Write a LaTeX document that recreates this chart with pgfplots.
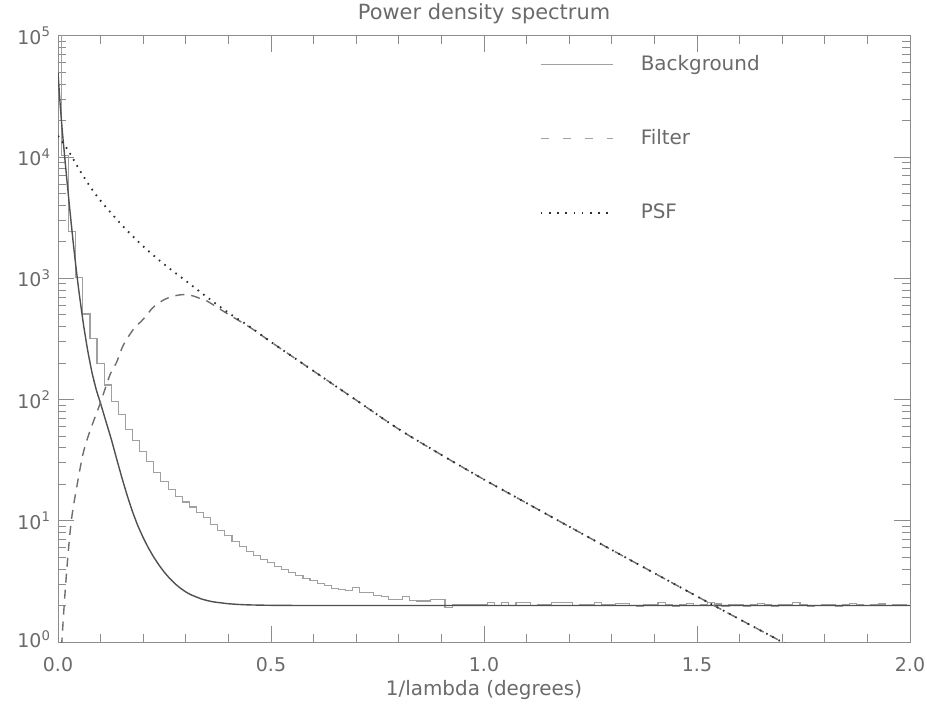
\documentclass[border=0pt]{standalone}
\usepackage{fontspec}
\setmainfont{DejaVu Sans}
\usepackage{pgfplots}
\usepackage{pgfplotstable}
\pgfplotsset{compat=1.18}

\definecolor{axisgray}{HTML}{8C8C8C}
\definecolor{textgray}{HTML}{6A6A6A}
\definecolor{histgray}{HTML}{A0A0A0}
\definecolor{bggray}{HTML}{505050}
\definecolor{filtgray}{HTML}{6E6E6E}
\definecolor{psfcol}{HTML}{2E2E2E}

% histogram of the measured spectrum, bin width 1/60
\pgfplotstableread{
x y
0 300000
0.0167 10400
0.0333 2430
0.05 1010
0.0667 508
0.0833 320
0.1 199
0.1167 132
0.1333 96
0.15 75
0.1667 57
0.1833 46
0.2 37
0.2167 31
0.2333 25
0.25 21
0.2667 18.2
0.2833 16.0
0.3 14.3
0.3167 13.0
0.3333 11.8
0.35 10.6
0.3667 9.3
0.3833 8.3
0.4 7.6
0.4167 6.8
0.4333 6.1
0.45 5.6
0.4667 5.2
0.4833 4.8
0.5 4.5
0.5167 4.2
0.5333 3.95
0.55 3.75
0.5667 3.55
0.5833 3.35
0.6 3.2
0.6167 3.05
0.6333 2.93
0.65 2.75
0.6667 2.72
0.6833 2.66
0.7 2.80
0.7167 2.55
0.7333 2.55
0.75 2.44
0.7667 2.37
0.7833 2.25
0.8 2.25
0.8167 2.37
0.8333 2.20
0.85 2.18
0.8667 2.18
0.8833 2.25
0.9 2.25
0.9167 1.92
0.9333 2.02
0.95 2.02
0.9667 2.05
0.9833 2.05
1.0 2.05
1.0167 2.10
1.0333 2.00
1.05 2.10
1.0667 2.00
1.0833 2.10
1.1 2.10
1.1167 2.00
1.1333 2.05
1.15 2.05
1.1667 2.10
1.1833 2.10
1.2 2.10
1.2167 2.00
1.2333 2.05
1.25 2.05
1.2667 2.10
1.2833 2.02
1.3 2.02
1.3167 2.08
1.3333 2.08
1.35 2.00
1.3667 1.96
1.3833 2.05
1.4 2.05
1.4167 2.10
1.4333 2.02
1.45 1.97
1.4667 2.04
1.4833 2.08
1.5 2.00
1.5167 2.03
1.5333 2.10
1.55 2.06
1.5667 1.98
1.5833 2.02
1.6 2.05
1.6167 1.97
1.6333 2.03
1.65 2.08
1.6667 2.05
1.6833 1.98
1.7 2.02
1.7167 2.04
1.7333 2.10
1.75 2.02
1.7667 1.97
1.7833 2.01
1.8 2.05
1.8167 2.04
1.8333 1.98
1.85 2.03
1.8667 2.07
1.8833 2.02
1.9 1.99
1.9167 2.04
1.9333 2.06
1.95 2.00
1.9667 2.02
1.9833 2.04
2.0 2.00
}\histtab

% smooth background model
\pgfplotstableread{
x y
0.000 50100
0.005 27500
0.010 16600
0.015 10700
0.020 7000
0.025 4620
0.030 3090
0.035 2090
0.040 1445
0.045 1023
0.050 741
0.060 412
0.070 251
0.080 166
0.090 120
0.1000 92.9
0.1125 66.1
0.1250 47.2
0.1375 32.6
0.1500 22.7
0.1625 16.15
0.1750 11.87
0.1875 9.10
0.2000 7.26
0.2125 5.955
0.2250 5.00
0.2375 4.29
0.2500 3.75
0.2625 3.34
0.2750 3.02
0.2875 2.78
0.3000 2.59
0.3125 2.45
0.3250 2.35
0.3375 2.26
0.3500 2.20
0.3625 2.15
0.3750 2.12
0.4000 2.069
0.4250 2.040
0.4500 2.023
0.5000 2.008
0.6000 2.000
1.0000 2.000
2.0000 2.000
}\bgtab

% filter
\pgfplotstableread{
x y
0.004 0.5
0.009 1.0
0.016 2.4
0.024 5.5
0.032 10.5
0.044 19
0.059 36
0.075 55
0.099 93
0.122 160
0.138 205
0.153 280
0.177 380
0.200 460
0.224 580
0.250 670
0.275 720
0.295 735
0.315 720
0.335 680
0.350 650
0.400 505
0.450 396
0.500 299
0.600 172
0.700 99
0.800 57
0.900 35
1.000 21.9
1.100 14.0
1.200 8.95
1.300 5.75
1.400 3.70
1.500 2.38
1.600 1.54
1.700 1.00
1.750 0.80
}\filttab

% PSF
\pgfplotstableread{
x y
0.000 15000
0.025 11200
0.050 7900
0.075 5750
0.100 4370
0.150 2750
0.200 1840
0.250 1300
0.300 955
0.350 700
0.400 520
0.450 400
0.500 299
0.600 172
0.700 99
0.800 57
0.900 35
1.000 21.9
1.100 14.0
1.200 8.95
1.300 5.75
1.400 3.70
1.500 2.38
1.600 1.54
1.700 1.00
1.750 0.80
}\psftab

\begin{document}
\begin{tikzpicture}
\begin{axis}[
  name=ax,
  scale only axis,
  width=426bp, height=303bp,
  xmin=0, xmax=2,
  ymode=log, ymin=1, ymax=1e5,
  axis line style={draw=axisgray, line width=0.5bp},
  every tick/.style={draw=axisgray, line width=0.5bp},
  tick align=inside,
  tick pos=both,
  major tick length=8bp,
  minor tick length=4bp,
  xtick={0,0.5,1,1.5,2},
  xticklabels={0.0,0.5,1.0,1.5,2.0},
  minor x tick num=4,
  ytick={1,10,100,1000,10000,100000},
  yticklabels={\raisebox{3bp}{10\textsuperscript{0}},10\textsuperscript{1},10\textsuperscript{2},10\textsuperscript{3},10\textsuperscript{4},\raisebox{-4bp}{10\textsuperscript{5}}},
  ticklabel style={font=\fontsize{9.5}{11}\selectfont, text=textgray},
  xticklabel style={anchor=base, yshift=-14.8bp},
  xlabel={1/lambda (degrees)},
  xlabel style={at={(axis description cs:0.5,0)}, anchor=base, yshift=-26.5bp,
    font=\fontsize{10}{12}\selectfont, text=textgray},
  title={Power density spectrum},
  title style={at={(axis description cs:0.5,1)}, anchor=base, yshift=2.5bp,
    font=\fontsize{10.5}{12}\selectfont, text=textgray},
  legend style={at={(0.5657,0.974)}, anchor=north west, draw=none, fill=none,
    inner sep=0pt, outer sep=0pt, row sep=24bp,
    font=\fontsize{10}{12}\selectfont, text=textgray},
  legend cell align=left,
  legend image code/.code={\draw[#1] (0bp,0bp) -- (36bp,0bp); \path[draw=none] (0bp,0bp) -- (48bp,0bp);},
]
\addlegendimage{draw=histgray, line width=0.6bp}
\addlegendentry{Background}
\addlegendimage{draw=histgray, line width=0.6bp, dash pattern=on 4bp off 7bp}
\addlegendentry{Filter}
\addlegendimage{draw=psfcol, line width=0.8bp, dash pattern=on 0.8bp off 3.3bp}
\addlegendentry{PSF}

\addplot[forget plot, const plot mark mid, draw=histgray, line width=0.55bp] table {\histtab};
\addplot[forget plot, smooth, tension=0.3, draw=bggray, line width=0.7bp] table {\bgtab};
\addplot[forget plot, smooth, tension=0.5, draw=filtgray, line width=0.7bp, dash pattern=on 4.5bp off 3.5bp] table {\filttab};
\addplot[forget plot, smooth, tension=0.5, draw=psfcol, line width=0.9bp, dash pattern=on 0.8bp off 2.7bp] table {\psftab};
\end{axis}
\pgfresetboundingbox
\useasboundingbox ([shift={(-29bp,-32bp)}]ax.south west) rectangle ([shift={(8.5bp,18bp)}]ax.north east);
\end{tikzpicture}
\end{document}
